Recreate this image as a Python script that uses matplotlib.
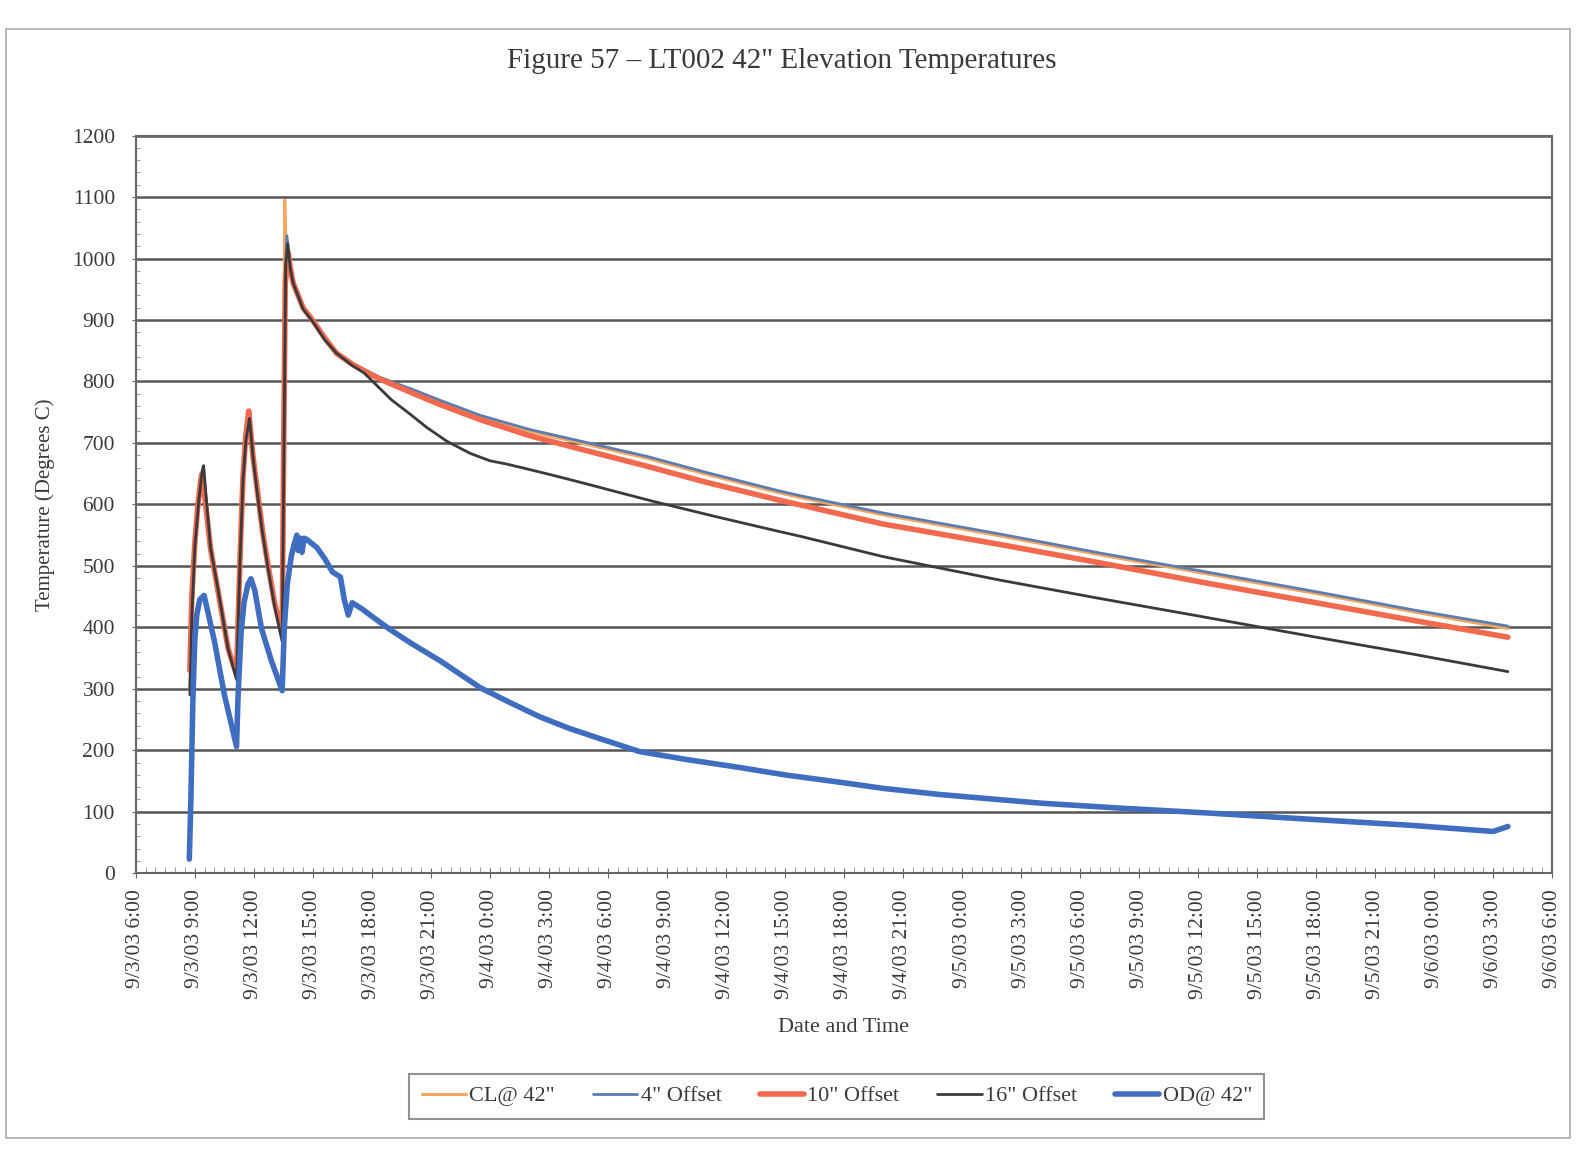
import pandas as pd
import matplotlib.pyplot as plt
import matplotlib.dates as mdates
from matplotlib.patches import Rectangle
from matplotlib.ticker import FuncFormatter, MultipleLocator

plt.rcParams['font.family'] = ['Liberation Serif', 'DejaVu Serif']

start = pd.Timestamp('2003-09-03 06:00')

# hours after 9/3/03 6:00 and temperatures (deg C) for each thermocouple
cl_hours = [2.75, 2.85, 3.0, 3.15, 3.3, 3.4, 3.55, 3.8, 4.19, 4.69, 5.12, 5.29, 5.45, 5.6, 5.74,
            5.95, 6.2, 6.45, 6.7, 7.05, 7.44, 7.5, 7.57, 7.62, 7.7, 7.85, 8.0, 8.5, 9.0, 9.6, 10.2,
            11.0, 11.9, 12.4, 13.2, 14.0, 15.5, 17.5, 20.0, 22.6, 26.0, 29.0, 32.7, 33.8, 38.0,
            43.9, 49.0, 54.1, 60.0, 65.0, 69.75]
cl_temp = [300, 420, 530, 595, 640, 655, 605, 530, 458, 370, 322, 500, 640, 712, 745,
           680, 615, 555, 505, 440, 384, 700, 1095, 1040, 1010, 985, 962, 921, 899, 872, 848,
           830, 814, 806, 796, 786, 767, 743, 719, 700, 675, 649, 619, 611, 583,
           549, 518, 489, 455, 425, 398]

off4_hours = [2.75, 2.85, 3.0, 3.15, 3.3, 3.42, 3.55, 3.8, 4.19, 4.69, 5.12, 5.29, 5.45, 5.6, 5.74,
              5.95, 6.2, 6.45, 6.7, 7.05, 7.44, 7.52, 7.6, 7.68, 7.85, 8.0, 8.5, 9.0, 9.6, 10.2,
              11.0, 11.9, 12.4, 13.2, 14.0, 15.5, 17.5, 20.0, 22.6, 26.0, 29.0, 32.7, 33.8, 38.0,
              43.9, 49.0, 54.1, 60.0, 65.0, 69.75]
off4_temp = [300, 420, 525, 595, 645, 662, 610, 530, 458, 368, 320, 500, 640, 715, 748,
             680, 615, 555, 505, 440, 382, 680, 980, 1037, 990, 965, 922, 900, 872, 848,
             830, 815, 807, 797, 788, 769, 745, 722, 703, 678, 652, 622, 614, 586,
             552, 521, 492, 458, 428, 402]

off10_hours = [2.75, 2.85, 3.0, 3.15, 3.3, 3.37, 3.55, 3.8, 4.19, 4.69, 5.12, 5.29, 5.45, 5.6, 5.74,
               5.95, 6.2, 6.45, 6.7, 7.05, 7.44, 7.52, 7.6, 7.75, 7.85, 8.0, 8.5, 9.0, 9.6, 10.2,
               11.0, 11.9, 12.4, 13.2, 14.0, 15.5, 17.5, 20.0, 22.6, 26.0, 29.0, 32.7, 33.8, 38.0,
               43.9, 49.0, 54.1, 60.0, 65.0, 69.75]
off10_temp = [330, 450, 537, 597, 640, 650, 600, 528, 457, 366, 323, 505, 645, 715, 752,
              680, 618, 555, 505, 441, 388, 700, 960, 1010, 985, 960, 920, 899, 871, 846,
              828, 812, 804, 793, 782, 762, 738, 712, 690, 662, 636, 607, 599, 568,
              535, 505, 474, 440, 411, 384]

off16_hours = [2.75, 2.85, 3.0, 3.2, 3.35, 3.45, 3.58, 3.8, 4.19, 4.69, 5.12, 5.29, 5.45, 5.6, 5.78,
               5.98, 6.2, 6.45, 6.7, 7.05, 7.44, 7.52, 7.62, 7.72, 7.85, 8.0, 8.5, 9.0, 9.6, 10.2,
               11.0, 11.6, 12.3, 13.0, 13.9, 14.8, 15.8, 17.0, 18.0, 18.8, 19.6, 21.0, 22.6, 24.5,
               26.3, 29.5, 32.7, 33.8, 38.0, 43.9, 49.0, 54.1, 60.0, 65.0, 69.75]
off16_temp = [290, 420, 530, 605, 648, 663, 610, 530, 460, 365, 315, 500, 640, 705, 740,
              670, 612, 552, 500, 435, 377, 650, 990, 1024, 985, 960, 918, 897, 868, 846,
              826, 814, 792, 770, 748, 725, 703, 683, 671, 666, 660, 649, 636, 620,
              605, 580, 556, 548, 515, 477, 447, 418, 384, 356, 328]

od_hours = [2.72, 2.8, 2.9, 3.0, 3.1, 3.25, 3.47, 3.7, 4.0, 4.5, 5.12, 5.2, 5.35, 5.5, 5.7, 5.85,
            6.05, 6.39, 6.9, 7.44, 7.55, 7.7, 7.9, 8.05, 8.19, 8.25, 8.35, 8.45, 8.55, 8.69, 9.2,
            9.6, 10.0, 10.4, 10.6, 10.8, 11.0, 11.5, 12.0, 12.9, 14.0, 15.5, 17.5, 19.0, 20.5,
            22.0, 23.5, 25.6, 28.0, 30.7, 33.0, 35.8, 38.0, 40.9, 46.0, 50.0, 54.5, 59.6, 64.8,
            69.0, 69.75]
od_temp = [23, 120, 280, 380, 420, 445, 452, 420, 377, 291, 206, 290, 390, 440, 470, 479,
           460, 398, 345, 297, 400, 470, 515, 535, 550, 525, 545, 522, 545, 543, 530,
           512, 490, 482, 445, 420, 440, 430, 418, 397, 374, 345, 302, 278, 255,
           236, 220, 198, 185, 172, 160, 148, 138, 128, 114, 106, 98, 88, 78,
           68, 76]

labels = ['CL@ 42"', '4" Offset', '10" Offset', '16" Offset', 'OD@ 42"']
colors = ['#F6A65E', '#5B7DB1', '#F2694E', '#3A3A3A', '#3F6DC0']
widths = [2.2, 2.0, 4.0, 2.0, 4.0]
series = [(cl_hours, cl_temp), (off4_hours, off4_temp), (off10_hours, off10_temp),
          (off16_hours, off16_temp), (od_hours, od_temp)]

fig = plt.figure(figsize=(15.79, 11.49), dpi=100)
ax = fig.add_axes([0.086, 0.240, 0.897, 0.642])

for (hrs, temp), lab, col, lw in zip(series, labels, colors, widths):
    t = start + pd.to_timedelta(hrs, unit='h')
    ax.plot(t, temp, color=col, lw=lw, label=lab, solid_joinstyle='round',
            solid_capstyle='round')

ax.set_xlim(start, start + pd.Timedelta(hours=72))
ax.set_ylim(0, 1200)

ax.xaxis.set_major_locator(mdates.HourLocator(byhour=range(0, 24, 3)))
ax.xaxis.set_minor_locator(mdates.MinuteLocator(byminute=[0, 30]))
ax.xaxis.set_major_formatter(FuncFormatter(
    lambda v, p: (lambda d: f'{d.month}/{d.day}/{d:%y} {d.hour}:{d:%M}')(mdates.num2date(v))))
ax.yaxis.set_major_locator(MultipleLocator(100))
ax.yaxis.set_minor_locator(MultipleLocator(20))

text_col = '#3a3a3a'
ax.tick_params(axis='x', which='major', labelrotation=90, labelsize=15.5, length=7,
               direction='inout', colors='#666666', labelcolor=text_col, pad=8)
ax.tick_params(axis='x', which='minor', length=4, direction='in', colors='#888888')
ax.tick_params(axis='y', which='major', labelsize=15.5, length=6, direction='inout',
               colors='#666666', labelcolor=text_col, pad=12)
ax.tick_params(axis='y', which='minor', length=3, direction='in', colors='#888888')

ax.grid(axis='y', which='major', color='#555555', lw=1.8)
ax.set_axisbelow(True)
for s in ax.spines.values():
    s.set_color('#666666')
    s.set_linewidth(1.5)

ax.set_ylabel('Temperature (Degrees C)', fontsize=15, color=text_col, labelpad=12)
ax.set_xlabel('Date and Time', fontsize=16, color=text_col, labelpad=14)
fig.text(0.495, 0.947, 'Figure 57 \u2013 LT002 42" Elevation Temperatures', ha='center',
         va='center', fontsize=21, color=text_col)

leg = fig.legend(loc='center', bbox_to_anchor=(0.530, 0.046), ncol=5, fontsize=16,
                 frameon=True, fancybox=False, handlelength=2.0, handletextpad=0.15,
                 columnspacing=1.7, borderpad=0.55)
leg.get_frame().set_edgecolor('#777777')
leg.get_frame().set_linewidth(1.5)
for txt in leg.get_texts():
    txt.set_color(text_col)

# outer chart border
fig.patches.append(Rectangle((0.004, 0.01), 0.99, 0.965, transform=fig.transFigure,
                             fill=False, edgecolor='#aaaaaa', lw=1.2))

fig.savefig('out.png', dpi=100, facecolor='white')
